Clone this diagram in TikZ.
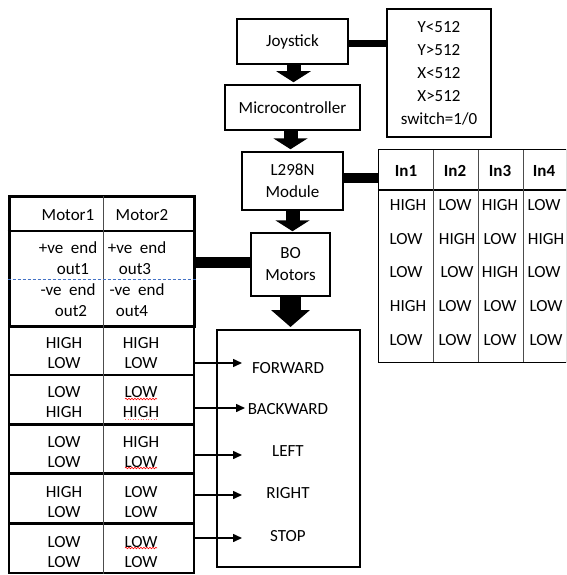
\documentclass[tikz,border=0pt]{standalone}
\usepackage{fontspec}
\setmainfont{Carlito}
\usetikzlibrary{arrows.meta,decorations.pathmorphing,calc}
\definecolor{dashblue}{RGB}{68,114,196}
\begin{document}
\begin{tikzpicture}[x=1pt,y=-1pt,
 every node/.style={font=\fontsize{17}{22}\selectfont, inner sep=0pt},
 box/.style={draw, line width=1.5pt, fill=white},
 bar/.style={line width=8pt},
 blockarrow/.style={line width=14pt, -{Triangle[width=34pt,length=11pt]}},
 bigarrow/.style={line width=21pt, -{Triangle[width=38pt,length=17pt]}},
 thinarrow/.style={line width=1.5pt, -{Triangle[width=8pt,length=9pt]}},
 rowbox/.style={draw, line width=2pt, minimum width=185pt, minimum height=49pt},
 cell/.style={align=center, font=\fontsize{17}{20.5}\selectfont},
 grid/.style={line width=0.8pt, black!70},
 squig/.style={red, line width=0.6pt, decorate, decoration={snake, amplitude=0.8pt, segment length=3pt}}
]
\useasboundingbox (0,0) rectangle (566,575);
\clip (0,0) rectangle (566,575);

% main blocks
\node[box, minimum width=111pt, minimum height=45pt] (joy) at (292.5,41.5) {Joystick};
\node[box, minimum width=104pt, minimum height=128pt, align=center, font=\fontsize{17}{23}\selectfont] (ybox) at (439,73) {Y<512\\Y>512\\X<512\\X>512\\switch=1/0};
\node[box, minimum width=135pt, minimum height=45pt] (mcu) at (292.5,107.5) {Microcontroller};
\node[box, minimum width=101pt, minimum height=58pt, align=center] (drv) at (292.5,181) {L298N\\Module};
\node[box, minimum width=79pt, minimum height=63pt, align=center] (bo) at (290.5,264.5) {BO\\Motors};
\node[draw, line width=2pt, minimum width=143pt, minimum height=237pt] (car) at (288.5,448.5) {};

% right table
\node[draw, line width=1.5pt, minimum width=188pt, minimum height=213pt] (rt) at (472.5,256) {};
\draw[line width=1.5pt] (rt.west |- 0,190) -- (rt.east |- 0,190);
\draw[grid] (433,150) -- (433,362);
\draw[grid] (478,150) -- (478,362);
\draw[grid] (523,150) -- (523,362);
\node[font=\fontsize{17}{22}\bfseries] (h1) at (406,171) {In1};
\node[font=\fontsize{17}{22}\bfseries] (h2) at (455,171) {In2};
\node[font=\fontsize{17}{22}\bfseries] (h3) at (500,171) {In3};
\node[font=\fontsize{17}{22}\bfseries] (h4) at (544,171) {In4};
\node (c11) at (408,205) {HIGH}; \node (c12) at (455,205) {LOW}; \node (c13) at (500,205) {HIGH}; \node (c14) at (544,205) {LOW};
\node (c21) at (406,239) {LOW}; \node (c22) at (457,239) {HIGH}; \node (c23) at (500,239) {LOW}; \node (c24) at (546,239) {HIGH};
\node (c31) at (406,272) {LOW}; \node (c32) at (457,272) {LOW}; \node (c33) at (500,272) {HIGH}; \node (c34) at (544,272) {LOW};
\node (c41) at (408,306) {HIGH}; \node (c42) at (455,306) {LOW}; \node (c43) at (500,306) {LOW}; \node (c44) at (546,306) {LOW};
\node (c51) at (406,340) {LOW}; \node (c52) at (455,340) {LOW}; \node (c53) at (500,340) {LOW}; \node (c54) at (546,340) {LOW};

% left header table
\node[draw, line width=3pt, minimum width=185pt, minimum height=130pt] (lt) at (101.5,261) {};
\draw[line width=2pt] (lt.west |- 0,231) -- (lt.east |- 0,231);
\draw[grid] (103,196) -- (103,326);
\draw[dashblue, line width=0.7pt, dash pattern=on 3pt off 2pt] (lt.west |- 0,279) -- (lt.east |- 0,279);
\node (m1) at (68,215) {Motor1};
\node (m2) at (142,215) {Motor2};
\node (p1) at (68,248) {+ve\hspace{0.45em}end};
\node (o1) at (73,269) {out1};
\node (n1) at (68,290) {-ve\hspace{0.45em}end};
\node (o2) at (71,311) {out2};
\node (p2) at (137,248) {+ve\hspace{0.45em}end};
\node (o3) at (135,269) {out3};
\node (n2) at (137,290) {-ve\hspace{0.45em}end};
\node (o4) at (132,311) {out4};

% state rows
\node[rowbox] (r1) at (101.5,350.5) {};
\node[rowbox] (r2) at (101.5,399.5) {};
\node[rowbox, line width=2.5pt] (r3) at (101.5,449) {};
\node[rowbox] (r4) at (101.5,498.5) {};
\node[rowbox] (r5) at (101.5,548) {};
\foreach \r in {r1,r2,r3,r4,r5} {\draw[grid] (\r.north -| 103,0) -- (\r.south -| 103,0);}
\node[cell] (l1) at (64,353) {HIGH\\LOW};  \node[cell] (q1) at (141,353) {HIGH\\LOW};
\node[cell] (l2) at (64,402) {LOW\\HIGH};  \node[cell] (q2) at (141,402) {LOW\\HIGH};
\node[cell] (l3) at (64,452) {LOW\\LOW};   \node[cell] (q3) at (141,452) {HIGH\\LOW};
\node[cell] (l4) at (64,502) {HIGH\\LOW};  \node[cell] (q4) at (141,502) {LOW\\LOW};
\node[cell] (l5) at (64,552) {LOW\\LOW};   \node[cell] (q5) at (141,552) {LOW\\LOW};
\draw[squig] (125,399) -- (157,399);
\draw[red!60, line width=0.6pt, dotted] (125,419) -- (157,419);
\draw[squig] (125,468) -- (157,468);
\draw[squig] (125,548) -- (157,548);

% direction labels
\node (fw) at (288,368) {FORWARD};
\node (bw) at (288,409) {BACKWARD};
\node (lf) at (288,451) {LEFT};
\node (rg) at (288,493) {RIGHT};
\node (st) at (288,536) {STOP};
\coordinate (a1) at (242,363);
\coordinate (a2) at (245,408);
\coordinate (a3) at (242,455);
\coordinate (a4) at (242,495);
\coordinate (a5) at (242,538);
\draw[thinarrow] (r1.east |- a1) -- (a1);
\draw[thinarrow] (r2.east |- a2) -- (a2);
\draw[thinarrow] (r3.east |- a3) -- (a3);
\draw[thinarrow] (r4.east |- a4) -- (a4);
\draw[thinarrow] (r5.east |- a5) -- (a5);

% connectors
\draw[bar, line width=7pt] ([yshift=-2pt]joy.east) -- ([yshift=-2pt]joy.east -| ybox.west);
\draw[bar, line width=10pt] ([yshift=3pt]drv.east) -- ([yshift=3pt]drv.east -| rt.west);
\draw[bar, line width=11pt] ([yshift=2pt]bo.west) -- ([yshift=2pt]bo.west -| lt.east);
\draw[blockarrow] ([xshift=1pt]joy.south) -- ([xshift=1pt,yshift=2pt]joy.south |- mcu.north);
\draw[blockarrow] ([xshift=-2pt]mcu.south) -- ([xshift=-2pt,yshift=2pt]mcu.south |- drv.north);
\draw[blockarrow] (drv.south) -- ([yshift=1pt]drv.south |- bo.north);
\draw[bigarrow] (bo.south) -- ([yshift=2pt]bo.south |- car.north);
\end{tikzpicture}
\end{document}
